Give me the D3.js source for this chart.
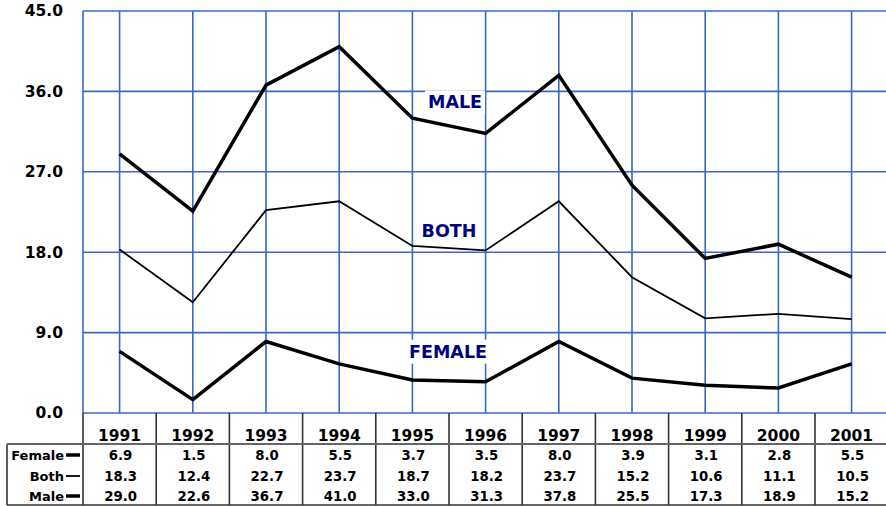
<!DOCTYPE html>
<html>
<head>
<meta charset="utf-8">
<script src="https://cdn.jsdelivr.net/npm/d3@7/dist/d3.min.js"></script>
<style>
  html, body { margin: 0; padding: 0; background: #fff; }
  svg { display: block; font-family: "DejaVu Sans", Verdana, sans-serif; font-weight: bold; }
</style>
</head>
<body>
<svg id="chart" width="886" height="506"></svg>
<script>
// Rates by year, 1991-2001
const years  = ["1991","1992","1993","1994","1995","1996","1997","1998","1999","2000","2001"];
const female = [6.9, 1.5, 8.0, 5.5, 3.7, 3.5, 8.0, 3.9, 3.1, 2.8, 5.5];
const both   = [18.3, 12.4, 22.7, 23.7, 18.7, 18.2, 23.7, 15.2, 10.6, 11.1, 10.5];
const male   = [29.0, 22.6, 36.7, 41.0, 33.0, 31.3, 37.8, 25.5, 17.3, 18.9, 15.2];
const yTicks = [0, 9, 18, 27, 36, 45];

const series = [
  { name: "Female", label: "FEMALE", values: female, width: 3.5, labelAt: 6.9, labelDx: -1 },
  { name: "Both",   label: "BOTH",   values: both,   width: 1.8, labelAt: 20.4, labelDx: 0 },
  { name: "Male",   label: "MALE",   values: male,   width: 3.5, labelAt: 34.8, labelDx: 6 }
];

const svg = d3.select("#chart");
const plotLeft = 83, plotTop = 11, plotBottom = 413, colW = 73.2;
const gridColor = "#3a66c8";

const x = d3.scaleBand().domain(years).range([plotLeft, plotLeft + colW * years.length]).padding(0);
const cx = d => x(d) + x.bandwidth() / 2;
const y = d3.scaleLinear().domain([0, 45]).range([plotBottom, plotTop]);

// Grid: horizontal lines at each tick, vertical lines at each year
const grid = svg.append("g");
grid.selectAll("line.h").data(yTicks).join("line")
  .attr("x1", plotLeft).attr("x2", 890)
  .attr("y1", d => y(d)).attr("y2", d => y(d))
  .attr("stroke", gridColor).attr("stroke-width", 1.6);
grid.selectAll("line.v").data(years).join("line")
  .attr("x1", d => cx(d)).attr("x2", d => cx(d))
  .attr("y1", plotTop).attr("y2", plotBottom)
  .attr("stroke", gridColor).attr("stroke-width", 1.6);
grid.append("line")
  .attr("x1", plotLeft).attr("x2", plotLeft).attr("y1", plotTop).attr("y2", plotBottom)
  .attr("stroke", gridColor).attr("stroke-width", 1.6);

// Y axis tick labels
const yAxis = d3.axisLeft(y).tickValues(yTicks).tickFormat(d3.format(".1f")).tickSize(0).tickPadding(0);
const ya = svg.append("g").attr("transform", "translate(63,0)").call(yAxis);
ya.select(".domain").remove();
ya.selectAll("text")
  .attr("font-size", 15.5).attr("font-weight", "bold")
  .attr("font-family", "DejaVu Sans, Verdana, sans-serif").attr("fill", "#000");

// Series lines
const line = d3.line().x((d, i) => cx(years[i])).y(d => y(d));
svg.append("g").selectAll("path").data(series).join("path")
  .attr("d", s => line(s.values))
  .attr("fill", "none").attr("stroke", "#000")
  .attr("stroke-width", s => s.width).attr("stroke-linejoin", "miter");

// Series labels with white backing
const labelX = (cx("1995") + cx("1996")) / 2;
const lab = svg.append("g").selectAll("g").data(series).join("g")
  .attr("transform", s => `translate(${labelX + s.labelDx},${y(s.labelAt)})`);
lab.append("text")
  .text(s => s.label)
  .attr("text-anchor", "middle").attr("dy", "0.36em")
  .attr("font-size", 17.5).attr("fill", "#000080")
  .each(function () {
    const b = this.getBBox();
    d3.select(this.parentNode).insert("rect", "text")
      .attr("x", b.x - 3).attr("y", b.y - 2)
      .attr("width", b.width + 6).attr("height", b.height + 4)
      .attr("fill", "#fff");
  });

// Data table under the plot
const tableTop = 444, tableBottom = 505, tableLeft = 7;
const rowY = [455, 476, 496];
const tbl = svg.append("g");
const sepColor = "#333";

// column separators
tbl.selectAll("line.sep").data(years).join("line")
  .attr("x1", d => x(d)).attr("x2", d => x(d))
  .attr("y1", plotBottom).attr("y2", tableBottom)
  .attr("stroke", sepColor).attr("stroke-width", 1.6);
tbl.append("line")
  .attr("x1", x("2001") + x.bandwidth()).attr("x2", x("2001") + x.bandwidth())
  .attr("y1", plotBottom).attr("y2", tableBottom)
  .attr("stroke", sepColor).attr("stroke-width", 1.6);
tbl.append("line")
  .attr("x1", tableLeft).attr("x2", tableLeft).attr("y1", tableTop).attr("y2", tableBottom)
  .attr("stroke", sepColor).attr("stroke-width", 1.6);
tbl.append("line")
  .attr("x1", tableLeft).attr("x2", 890).attr("y1", tableTop).attr("y2", tableTop)
  .attr("stroke", "#666").attr("stroke-width", 2);
tbl.append("line")
  .attr("x1", tableLeft).attr("x2", 890).attr("y1", tableBottom).attr("y2", tableBottom)
  .attr("stroke", sepColor).attr("stroke-width", 1.6);

// year header
tbl.selectAll("text.year").data(years).join("text")
  .attr("x", d => cx(d)).attr("y", 441)
  .attr("text-anchor", "middle").attr("font-size", 15.5).attr("fill", "#000")
  .text(d => d);

// rows: label, legend stroke, values
series.forEach((s, r) => {
  const ry = rowY[r];
  tbl.append("text")
    .attr("x", 64).attr("y", ry).attr("dy", "0.36em")
    .attr("text-anchor", "end").attr("font-size", 13).attr("fill", "#000")
    .text(s.name);
  tbl.append("line")
    .attr("x1", 66).attr("x2", 80).attr("y1", ry).attr("y2", ry)
    .attr("stroke", "#000").attr("stroke-width", s.width);
  tbl.selectAll(null).data(s.values).join("text")
    .attr("x", (d, i) => cx(years[i]) + 1).attr("y", ry).attr("dy", "0.36em")
    .attr("text-anchor", "middle").attr("font-size", 13.3).attr("fill", "#000")
    .text(d => d3.format(".1f")(d));
});
</script>
</body>
</html>
